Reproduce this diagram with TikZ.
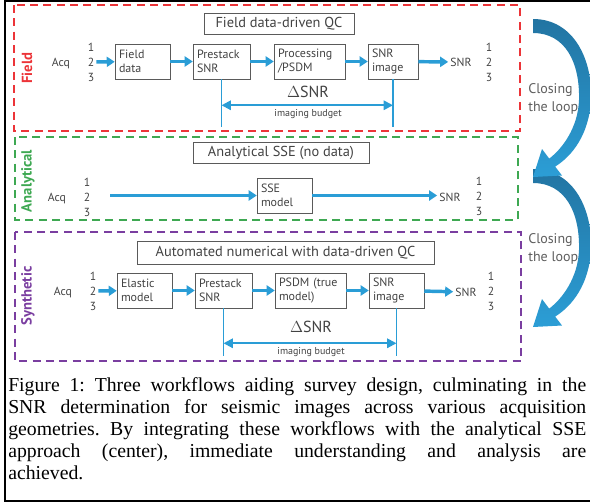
\documentclass[tikz,border=0pt]{standalone}
\usepackage{fontspec}
\setmainfont{Liberation Serif}
\newfontfamily\diagfont{PT Sans}
\usetikzlibrary{arrows.meta, positioning, calc}
\definecolor{fieldred}{RGB}{236, 52, 56}
\definecolor{anagreen}{RGB}{62, 168, 82}
\definecolor{synpurple}{RGB}{122, 62, 160}
\definecolor{flowblue}{RGB}{42, 157, 214}
\definecolor{loopdark}{RGB}{34, 116, 162}
\definecolor{looplight}{RGB}{44, 158, 214}
\definecolor{boxgray}{RGB}{90, 90, 90}
\definecolor{boxtext}{RGB}{66, 66, 66}
\frenchspacing

\begin{document}
\begin{tikzpicture}[x=0.75pt, y=-0.75pt,
  box/.style={draw=boxgray, text=boxtext, minimum height=26.25pt, inner sep=3pt, align=left, text width=#1, font=\diagfont\fontsize{9}{10.5}\selectfont},
  title/.style={draw=boxgray, text=boxtext, inner sep=0pt, minimum height=16pt, font=\diagfont\fontsize{10.8}{12}\selectfont},
  lane/.style={dash pattern=on 6pt off 4pt, line width=1.5pt},
  side/.style={rotate=90, font=\diagfont\bfseries\fontsize{11}{12}\selectfont},
  lbl/.style={text=boxtext, inner sep=1.5pt, font=\diagfont\fontsize{8.8}{10}\selectfont},
  flow/.style={-{Triangle[length=6pt, width=7.5pt]}, line width=2.6pt, flowblue},
  tick/.style={line width=1pt, flowblue},
  budget/.style={{Triangle[length=7pt, width=7pt]}-{Triangle[length=7pt, width=7pt]}, line width=1.5pt, flowblue},
  delta/.style={text=boxtext, font=\diagfont\fontsize{12}{13}\selectfont},
  small/.style={text=boxtext, font=\diagfont\fontsize{7.5}{8}\selectfont},
  loop/.style={text=boxtext!85, align=left, inner sep=0pt, font=\diagfont\fontsize{10.5}{13.5}\selectfont},
  caption/.style={text width=433.5pt, align=justify, inner sep=0pt, font=\fontsize{14.8}{16.6}\selectfont}
]
  \useasboundingbox (0,0) rectangle (590,504);

  % Frame
  \draw[line width=1.5pt] (590,1) -- (4.5,1) -- (4.5,501) -- (590,501);

  % Lanes
  \draw[lane, fieldred] (14,5) rectangle (520,131);
  \draw[lane, anagreen] (15,137) rectangle (518,220);
  \draw[lane, synpurple] (15,232) rectangle (521,361);

  \node[side, fieldred] (fieldlbl) at (27,68) {Field};
  \node[side, anagreen] (analbl) at (28,181) {Analytical};
  \node[side, synpurple] (synlbl) at (28,296) {Synthetic};

  % Titles
  \node[title, minimum width=112.5pt] (ftitle) at (279,23.5) {Field data-driven QC};
  \node[title, minimum width=132pt] (atitle) at (281,152.5) {Analytical SSE (no data)};
  \node[title, minimum width=222.75pt, minimum height=17.25pt] (stitle) at (285.5,252.5) {Automated numerical with data-driven QC};

  % Field workflow
  \node[lbl] (facq) at (61,63) {Acq};
  \node[lbl] (fin1) at (91,47) {1};
  \node[lbl] (fin2) at (91,62) {2};
  \node[lbl] (fin3) at (91,77) {3};
  \node[box=35.25pt] (fdata) at (142.5,61.5) {Field\\data};
  \node[box=36.75pt] (fpre) at (221.5,61.5) {Prestack\\SNR};
  \node[box=47.25pt] (fproc) at (309.5,61.5) {Processing\\/PSDM};
  \node[box=31.5pt] (fimg) at (393,61.5) {SNR\\image};
  \node[lbl] (fsnr) at (461,62) {SNR};
  \node[lbl] (fout1) at (489,47) {1};
  \node[lbl] (fout2) at (489,62) {2};
  \node[lbl] (fout3) at (489,77) {3};

  \draw[flow] (fin2) -- (fdata);
  \draw[flow] (fdata) -- (fpre);
  \draw[flow] (fpre) -- (fproc);
  \draw[flow] (fproc) -- (fimg);
  \draw[flow] (fimg) -- (fsnr);

  \coordinate (fpreend) at ($(fpre.south)+(0,48)$);
  \coordinate (fimgend) at ($(fimg.south)+(0,48)$);
  \coordinate (fbl) at ($(fpre.south)+(0,26)$);
  \coordinate (fbr) at ($(fimg.south)+(0,26)$);
  \draw[tick] (fpre.south) -- (fpreend);
  \draw[tick] (fimg.south) -- (fimgend);
  \draw[budget] (fbl) -- (fbr);
  \node[delta] (fdelta) at (308,92) {$\Delta$SNR};
  \node[small] (fbudget) at (308,114) {imaging budget};

  % Analytical workflow
  \node[lbl] (aacq) at (57,198) {Acq};
  \node[lbl] (ain1) at (87,182) {1};
  \node[lbl] (ain2) at (87,197) {2};
  \node[lbl] (ain3) at (87,212) {3};
  \coordinate (astart) at (110,195.5);
  \node[box=35.25pt] (asse) at (284.5,195.5) {SSE\\model};
  \node[lbl] (asnr) at (450,197) {SNR};
  \node[lbl] (aout1) at (479,181) {1};
  \node[lbl] (aout2) at (479,196) {2};
  \node[lbl] (aout3) at (479,211) {3};

  \draw[flow] (astart) -- (asse);
  \draw[flow] (asse) -- (asse -| asnr.west);

  % Synthetic workflow
  \node[lbl] (sacq) at (63,292) {Acq};
  \node[lbl] (sin1) at (93,276) {1};
  \node[lbl] (sin2) at (93,291) {2};
  \node[lbl] (sin3) at (93,306) {3};
  \node[box=35.25pt] (selastic) at (144.5,290.5) {Elastic\\model};
  \node[box=36.75pt] (spre) at (223.5,290.5) {Prestack\\SNR};
  \node[box=47.25pt] (spsdm) at (310.5,290.5) {PSDM (true\\model)};
  \node[box=35.25pt] (simg) at (396.5,290.5) {SNR\\image};
  \node[lbl] (ssnr) at (466,292) {SNR};
  \node[lbl] (sout1) at (491,276) {1};
  \node[lbl] (sout2) at (491,291) {2};
  \node[lbl] (sout3) at (491,306) {3};

  \draw[flow] (sin2) -- (selastic);
  \draw[flow] (selastic) -- (spre);
  \draw[flow] (spre) -- (spsdm);
  \draw[flow] (spsdm) -- (simg);
  \draw[flow] (simg) -- (ssnr);

  \coordinate (spreend) at ($(spre.south)+(0,48)$);
  \coordinate (simgend) at ($(simg.south)+(0,48)$);
  \coordinate (sbl) at ($(spre.south)+(0,35)$);
  \coordinate (sbr) at ($(simg.south)+(0,35)$);
  \draw[tick] (spre.south) -- (spreend);
  \draw[tick] (simg.south) -- (simgend);
  \draw[budget] (sbl) -- (sbr);
  \node[delta] (sdelta) at (311,327) {$\Delta$SNR};
  \node[small] (sbudget) at (311,352) {imaging budget};

  % Closing the loop
  \node[loop, anchor=west] (loop1) at (528,99) {Closing\\the loop};
  \node[loop, anchor=west] (loop2) at (528,249) {Closing\\the loop};

  \shade[top color=loopdark, middle color=looplight, bottom color=looplight, shift={(0,150)}]
    (533,19) .. controls (575,19) and (593,62) .. (591,100)
    .. controls (589,135) and (572,156) .. (555.2,166.6)
    -- (562,175.5) -- (533,177) -- (542,149) -- (549.2,158.6)
    .. controls (562,149) and (578,128) .. (579,100)
    .. controls (580,62) and (565,33) .. (533,33) -- cycle;
  \shade[top color=loopdark, middle color=looplight, bottom color=looplight]
    (533,19) .. controls (575,19) and (593,62) .. (591,100)
    .. controls (589,135) and (572,156) .. (555.2,166.6)
    -- (562,175.5) -- (533,177) -- (542,149) -- (549.2,158.6)
    .. controls (562,149) and (578,128) .. (579,100)
    .. controls (580,62) and (565,33) .. (533,33) -- cycle;

  % Caption
  \node[caption, anchor=north west] (cap) at (8,377) {Figure 1: Three workflows aiding survey design, culminating in the\linebreak SNR determination for seismic images across various acquisition\linebreak geometries. By integrating these workflows with the analytical SSE\linebreak approach (center), immediate understanding and analysis are\linebreak achieved.};
\end{tikzpicture}
\end{document}
